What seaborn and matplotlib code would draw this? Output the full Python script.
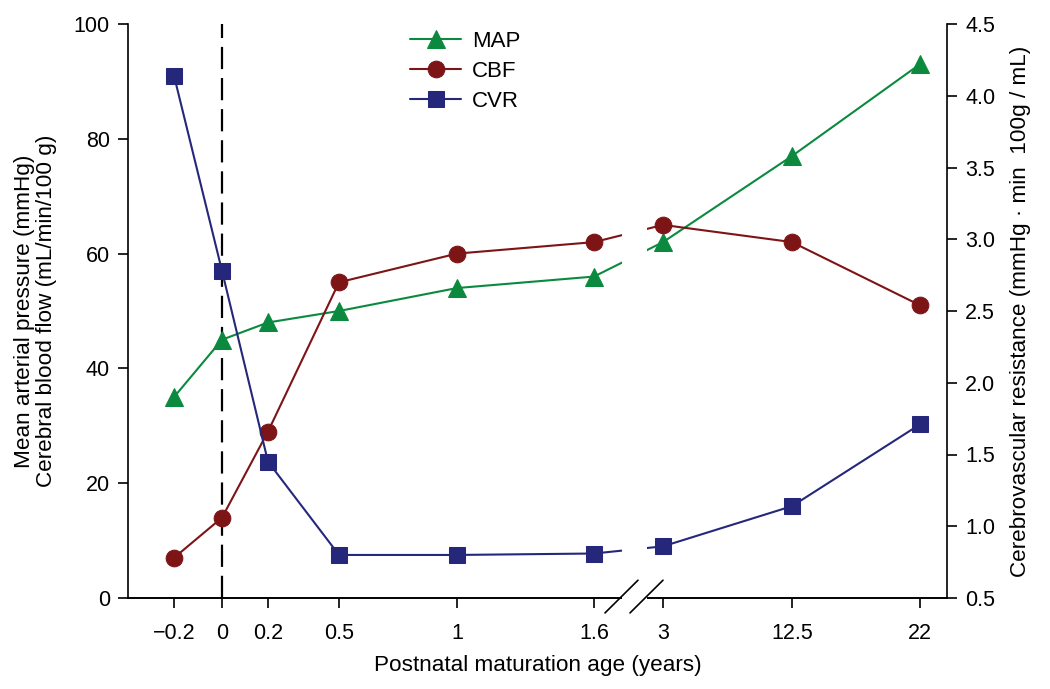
import numpy as np
import pandas as pd
import matplotlib
matplotlib.use("Agg")
import matplotlib.pyplot as plt
from matplotlib.patches import Rectangle
import seaborn as sns

# values
ages = [-0.2, 0, 0.2, 0.5, 1, 1.6, 3, 12.5, 22]
age_labels = ["\u22120.2", "0", "0.2", "0.5", "1", "1.6", "3", "12.5", "22"]
map_mmhg = [35, 45, 48, 50, 54, 56, 62, 77, 93]
cbf = [7, 14, 29, 55, 60, 62, 65, 62, 51]
cvr = [4.14, 2.78, 1.45, 0.80, 0.80, 0.81, 0.86, 1.14, 1.71]

# the x axis is uneven/broken: where each age sits (pixel-like units)
age_pos = [174, 222, 268, 339, 457, 594, 663, 792, 920]
ax_px = (128, 947)        # axis extent in the same units
gap_px = (622, 647)       # axis break

green = "#0b8a3f"
red = "#7d1416"
navy = "#25287a"

sns.set_style("ticks")
plt.rcParams["font.family"] = ["Liberation Sans", "DejaVu Sans"]
plt.rcParams["axes.linewidth"] = 1.2
plt.rcParams["text.color"] = "black"
plt.rcParams["axes.labelcolor"] = "black"
plt.rcParams["xtick.color"] = "black"
plt.rcParams["ytick.color"] = "black"
plt.rcParams["axes.edgecolor"] = "black"

# piecewise-linear scale through the knots, extrapolated at both ends
kx = np.array(ages, dtype=float)
kp = np.array(age_pos, dtype=float)
sl = (kp[1] - kp[0]) / (kx[1] - kx[0])
sr = (kp[-1] - kp[-2]) / (kx[-1] - kx[-2])
kx = np.r_[kx[0] - 100, kx, kx[-1] + 100]
kp = np.r_[kp[0] - 100 * sl, kp, kp[-1] + 100 * sr]


def fwd(a):
    return np.interp(a, kx, kp)


def inv(p):
    return np.interp(p, kp, kx)


fig = plt.figure(figsize=(10.5, 6.89), dpi=100)
ax = fig.add_axes([128 / 1050, 1 - 598 / 689, (947 - 128) / 1050, (598 - 24) / 689])
ax.set_xscale("function", functions=(fwd, inv))
ax.set_xlim(inv(ax_px[0]), inv(ax_px[1]))
ax2 = ax.twinx()

df = pd.DataFrame({"age": ages, "MAP": map_mmhg, "CBF": cbf, "CVR": cvr})

ax.axvline(0, color="black", lw=1.6, dashes=(10, 4), zorder=1)
sns.lineplot(data=df, x="age", y="MAP", ax=ax, color=green, lw=1.5, marker="^",
             markersize=13, markeredgecolor=green, label="MAP")
sns.lineplot(data=df, x="age", y="CBF", ax=ax, color=red, lw=1.5, marker="o",
             markersize=12, markeredgecolor=red, label="CBF")
sns.lineplot(data=df, x="age", y="CVR", ax=ax2, color=navy, lw=1.5, marker="s",
             markersize=11, markeredgecolor=navy, label="CVR")

ax.set_ylim(0, 100)
ax.set_yticks(range(0, 101, 20))
ax2.set_ylim(0.5, 4.5)
ax2.set_yticks(np.arange(0.5, 4.51, 0.5))
ax2.set_yticklabels([f"{v:.1f}" for v in np.arange(0.5, 4.51, 0.5)])
ax.set_xticks(ages)
ax.set_xticklabels(age_labels)
ax.minorticks_off()

for a in (ax, ax2):
    a.tick_params(direction="out", length=7, width=1.2, labelsize=15.5, pad=6)
    a.spines["top"].set_visible(False)
ax.tick_params(axis="x", pad=11)
ax.spines["right"].set_visible(False)
ax2.spines["left"].set_visible(False)

ax.set_xlabel("Postnatal maturation age (years)", fontsize=16.2, labelpad=8)
ax.set_ylabel("Mean arterial pressure (mmHg)\nCerebral blood flow (mL/min/100 g)",
              fontsize=16.2, linespacing=1.05, labelpad=12)
ax2.set_ylabel("Cerebrovascular resistance (mmHg \u00b7 min  100g / mL)",
               fontsize=16.2, labelpad=11)

# axis break: blank out lines and spine, then draw the slashes
w = ax_px[1] - ax_px[0]
g0 = (gap_px[0] - ax_px[0]) / w
g1 = (gap_px[1] - ax_px[0]) / w
ax2.add_patch(Rectangle((g0, -0.01), g1 - g0, 1.0, transform=ax2.transAxes,
                        facecolor="white", edgecolor="none", clip_on=False, zorder=5))
for x0 in (605, 630):
    xs = [(x0 - ax_px[0]) / w, (x0 + 33 - ax_px[0]) / w]
    ax2.plot(xs, [-0.026, 0.031], transform=ax2.transAxes, color="black",
             lw=1.2, clip_on=False, zorder=6)

h1, l1 = ax.get_legend_handles_labels()
h2, l2 = ax2.get_legend_handles_labels()
ax.get_legend().remove()
ax2.get_legend().remove()
ax2.legend(h1 + h2, l1 + l2, loc="upper left", bbox_to_anchor=(0.32, 1.023),
           frameon=False, fontsize=16, handlelength=2.3, labelspacing=0.4,
           handletextpad=0.5)

fig.savefig("out.png", dpi=100)
